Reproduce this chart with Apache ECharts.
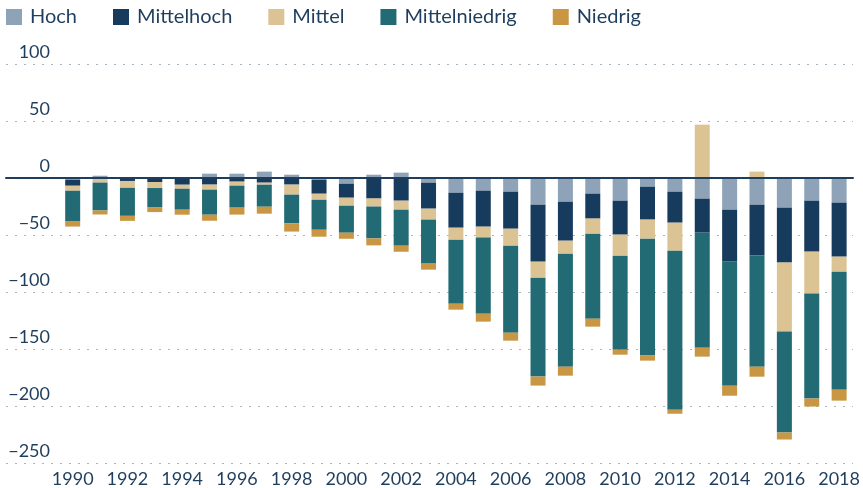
<!DOCTYPE html>
<html>
<head>
<meta charset="utf-8">
<script src="https://cdn.jsdelivr.net/npm/echarts@6/dist/echarts.min.js"></script>
<style>
  html, body { margin: 0; padding: 0; background: #fff; }
  #chart { width: 863px; height: 488px; }
</style>
</head>
<body>
<div id="chart"></div>
<script>
// Jahre (Kategorien)
const years = [];
for (let y = 1990; y <= 2018; y++) years.push(String(y));

const seriesNames = ['Hoch', 'Mittelhoch', 'Mittel', 'Mittelniedrig', 'Niedrig'];

// Werte
const hoch = [-1.5, 2, -0.6, -0.5, -0.6, 3.8, 3.8, 5.6, 2.9, -1.5, -5, 2.9, 4.7, -4.1, -12.9,
  -11.1, -12, -23.4, -20.8, -13.7, -19.9, -7.6, -12, -18.1, -27.8, -23.4, -26, -19.9, -21.6];
const mittelhoch = [-5.3, -0.5, -2, -3, -5.3, -5.8, -3.2, -4.1, -5.8, -12.3, -12.3, -18, -19.9, -22.8, -30.7,
  -31.6, -32.5, -50, -34.2, -21.9, -29.8, -28.9, -27.2, -29.8, -45.6, -44.7, -48.2, -44.7, -47.4];
const mittel = [-4.4, -3.5, -6, -5.3, -3.5, -4.4, -3.5, -1.8, -8.8, -5.3, -7, -7, -7.9, -9.6, -10.5,
  -9.6, -14.9, -14, -11.4, -13.2, -18.4, -16.7, -24.6, 46.8, 0, 5.6, -60.5, -36.8, -13.2];
const mittelniedrig = [-27, -24.5, -24.6, -16.7, -18.4, -22, -19.3, -19.3, -25.1, -26.3, -23.7, -28, -31.6, -38.6, -56.1,
  -66.7, -76.3, -86.8, -99.1, -74.6, -82.5, -102.6, -139.5, -100.9, -108.8, -97.4, -88.6, -92.1, -103.5];
const niedrig = [-4.4, -3.5, -4.4, -4.4, -4.4, -5.3, -6.1, -6.1, -7.3, -6.1, -5.3, -6.1, -5.3, -5.3, -5.3,
  -7, -7, -7.9, -7.9, -7, -4.4, -4.4, -3.5, -7.9, -8.8, -8.8, -6.1, -7, -9.6];

const colors = ['#8fa3b8', '#163b5c', '#dcc394', '#226b74', '#c99744'];
const textColor = '#1f3e5d';
const font = 'Lato';

const chart = echarts.init(document.getElementById('chart'));

const allData = [hoch, mittelhoch, mittel, mittelniedrig, niedrig];

chart.setOption({
  animation: false,
  color: colors,
  textStyle: { fontFamily: font },
  legend: {
    left: 6,
    top: 7,
    padding: 0,
    icon: 'rect',
    itemWidth: 16,
    itemHeight: 16,
    itemGap: 36,
    textStyle: { fontSize: 20, color: textColor, fontFamily: font, padding: [0, 0, 0, 3] },
    data: seriesNames
  },
  grid: [
    { left: 59, right: 10, top: 64, bottom: 25 },
    { left: 6, right: 10, top: 64, bottom: 25 }
  ],
  xAxis: [
    {
      type: 'category',
      gridIndex: 0,
      data: years,
      axisLine: { show: false },
      axisTick: { show: false },
      axisLabel: { interval: 1, color: textColor, fontSize: 18, fontFamily: font, margin: 7 }
    },
    {
      // nur fuer die Nulllinie ueber die ganze Breite
      type: 'value',
      gridIndex: 1,
      min: 0,
      max: 1,
      z: 5,
      axisLine: { show: true, onZero: true, lineStyle: { color: textColor, width: 2 } },
      axisTick: { show: false },
      axisLabel: { show: false },
      splitLine: { show: false }
    }
  ],
  yAxis: [
    {
      type: 'value',
      gridIndex: 0,
      min: -250,
      max: 100,
      interval: 50,
      axisLine: { show: false },
      axisTick: { show: false },
      splitLine: { show: false },
      axisLabel: {
        color: textColor,
        fontSize: 18,
        fontFamily: font,
        margin: 9,
        verticalAlign: 'bottom',
        padding: [0, 0, 3, 0],
        formatter: v => (v < 0 ? '\u2212' + Math.abs(v) : String(v))
      }
    },
    {
      type: 'value',
      gridIndex: 1,
      min: -250,
      max: 100,
      interval: 50,
      axisLine: { show: false },
      axisTick: { show: false },
      axisLabel: { show: false },
      splitLine: { show: true, lineStyle: { color: '#a6b5c6', width: 1, type: [2, 7] } }
    }
  ],
  series: seriesNames.map((name, i) => ({
    name: name,
    type: 'bar',
    stack: 'total',
    xAxisIndex: 0,
    yAxisIndex: 0,
    barWidth: 15,
    data: allData[i]
  }))
});
</script>
</body>
</html>
